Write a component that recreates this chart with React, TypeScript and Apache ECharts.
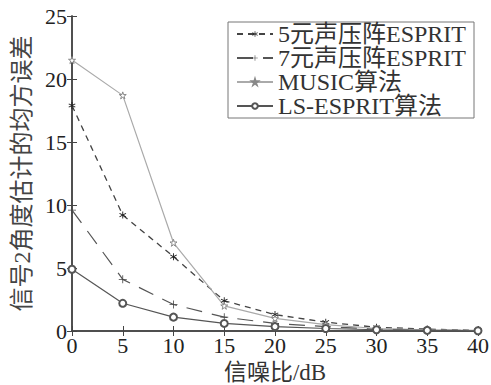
import React, { useEffect, useRef } from "react";
import * as echarts from "echarts";

const snr = [0, 5, 10, 15, 20, 25, 30, 35, 40];
const esprit5 = [17.9, 9.2, 5.9, 2.4, 1.3, 0.7, 0.3, 0.15, 0.05];
const esprit7 = [9.6, 4.1, 2.1, 1.1, 0.6, 0.35, 0.15, 0.08, 0.03];
const music = [21.5, 18.7, 7.0, 2.0, 1.0, 0.5, 0.2, 0.1, 0.05];
const lsEsprit = [4.9, 2.2, 1.1, 0.6, 0.35, 0.2, 0.1, 0.05, 0.02];
const seriesNames = ["5元声压阵ESPRIT", "7元声压阵ESPRIT", "MUSIC算法", "LS-ESPRIT算法"];
const xName = "信噪比/dB";
const yName = "信号2角度估计的均方误差";

const FONT = "'Liberation Serif', 'Noto Sans CJK SC', serif";
const STAR = "path://M50,0 L61,35 L98,35 L68,57 L79,91 L50,70 L21,91 L32,57 L2,35 L39,35 Z";
const ASTER = "path://M4.5,0h1v3.3l2.8,-1.6l0.5,0.9l-2.8,1.6l2.8,1.6l-0.5,0.9l-2.8,-1.6v3.3h-1v-3.3l-2.8,1.6l-0.5,-0.9l2.8,-1.6l-2.8,-1.6l0.5,-0.9l2.8,1.6z";
const PLUS = "path://M4.5,0h1v4.5h4.5v1h-4.5v4.5h-1v-4.5h-4.5v-1h4.5z";

const pairs = (ys: number[]) => snr.map((x, i) => [x, ys[i]]);

export default function App() {
  const ref = useRef<HTMLDivElement>(null);
  useEffect(() => {
    if (!ref.current) return;
    const chart = echarts.init(ref.current, undefined, { renderer: "svg" });
    const axisLine = { show: true, lineStyle: { color: "#444", width: 1.5 } };
    const tick = { show: true, inside: true, length: 5, lineStyle: { color: "#444" } };
    chart.setOption({
      animation: false,
      backgroundColor: "#fff",
      textStyle: { fontFamily: FONT },
      grid: { left: 72, right: 13, top: 16, bottom: 54, containLabel: false, outerBoundsMode: "none" },
      legend: {
        left: 228,
        top: 22,
        orient: "vertical",
        padding: [0, 8, 0, 8],
        itemGap: 0,
        itemWidth: 36,
        itemHeight: 7,
        itemTextGap: 9,
        borderColor: "#777",
        borderWidth: 1,
        backgroundColor: "#fff",
        textStyle: { fontFamily: FONT, fontSize: 24, color: "#333", lineHeight: 24 },
        data: seriesNames,
      },
      xAxis: [
        {
          type: "value",
          min: 0,
          max: 40,
          interval: 5,
          name: xName,
          nameLocation: "middle",
          nameGap: 30,
          nameTextStyle: { fontFamily: FONT, fontSize: 23, color: "#333" },
          axisLine,
          axisTick: tick,
          axisLabel: { fontFamily: FONT, fontSize: 22, color: "#222", margin: 3 },
          splitLine: { show: false },
        },
        {
          type: "value",
          position: "top",
          min: 0,
          max: 40,
          interval: 5,
          axisLine,
          axisTick: tick,
          axisLabel: { show: false },
          splitLine: { show: false },
        },
      ],
      yAxis: [
        {
          type: "value",
          min: 0,
          max: 25,
          interval: 5,
          name: yName,
          nameLocation: "middle",
          nameGap: 36,
          nameTextStyle: { fontFamily: FONT, fontSize: 24, color: "#444" },
          axisLine,
          axisTick: tick,
          axisLabel: { fontFamily: FONT, fontSize: 22, color: "#222", margin: 5 },
          splitLine: { show: false },
        },
        {
          type: "value",
          position: "right",
          min: 0,
          max: 25,
          interval: 5,
          axisLine,
          axisTick: tick,
          axisLabel: { show: false },
          splitLine: { show: false },
        },
      ],
      series: [
        {
          name: seriesNames[0],
          type: "line",
          data: pairs(esprit5),
          symbol: ASTER,
          symbolSize: 7,
          lineStyle: { color: "#444", width: 1.3, type: [6, 5] },
          itemStyle: { color: "#222" },
        },
        {
          name: seriesNames[1],
          type: "line",
          data: pairs(esprit7),
          symbol: PLUS,
          symbolSize: 8,
          lineStyle: { color: "#555", width: 1.2, type: [16, 10] },
          itemStyle: { color: "#444" },
        },
        {
          name: seriesNames[2],
          type: "line",
          data: pairs(music),
          symbol: STAR,
          symbolSize: 7,
          lineStyle: { color: "#aaa", width: 1.2 },
          itemStyle: { color: "#fff", borderColor: "#888", borderWidth: 1 },
        },
        {
          name: seriesNames[3],
          type: "line",
          data: pairs(lsEsprit),
          symbol: "emptyCircle",
          symbolSize: 7,
          lineStyle: { color: "#555", width: 1.2 },
          itemStyle: { color: "#555", borderWidth: 1 },
        },
      ],
    });
    return () => chart.dispose();
  }, []);
  return (
    <div style={{ position: "fixed", left: 0, top: 0, width: 491, height: 385 }}>
      <div ref={ref} style={{ width: 491, height: 385 }} />
    </div>
  );
}
